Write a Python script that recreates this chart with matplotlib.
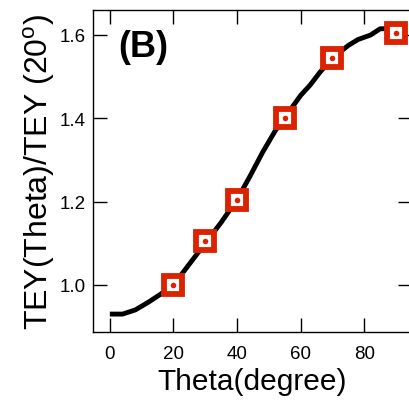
import numpy as np
import matplotlib
matplotlib.use("Agg")
import matplotlib.pyplot as plt

plt.rcParams['font.family'] = ['Liberation Sans', 'DejaVu Sans']
plt.rcParams['mathtext.fontset'] = 'custom'
plt.rcParams['mathtext.rm'] = 'Liberation Sans'

# curve
theta_curve = [0, 4, 8, 12, 16, 20, 25, 30, 35, 40, 44, 48, 52, 55, 60, 63, 66, 70, 75, 78, 82, 85, 88, 90]
tey_curve = [0.93, 0.93, 0.94, 0.958, 0.978, 1.0, 1.05, 1.10, 1.15, 1.205, 1.26, 1.318, 1.37, 1.402, 1.455, 1.48, 1.51, 1.545, 1.575, 1.589, 1.60, 1.615, 1.615, 1.612]

# measured points
theta_pts = [20, 30, 40, 55, 70, 90]
tey_pts = [1.0, 1.106, 1.205, 1.401, 1.545, 1.604]

red = '#dc2200'

fig = plt.figure(figsize=(4.10, 4.06), dpi=100)
ax = fig.add_axes([0.2268, 0.1798, 0.778, 0.7931])

ax.plot(theta_curve, tey_curve, color='black', lw=3.5, solid_capstyle='butt', zorder=2)
ax.plot(theta_pts, tey_pts, ls='none', marker='s', ms=12.5, mew=4.2, mec=red, mfc='white', zorder=3)
ax.plot(theta_pts, tey_pts, ls='none', marker='o', ms=4, mew=0, color=red, zorder=4)

ax.set_xlim(-5.3, 95)
ax.set_ylim(0.887, 1.66)
ax.set_xticks([0, 20, 40, 60, 80])
ax.set_yticks([1.0, 1.2, 1.4, 1.6])
ax.set_yticklabels(['1.0', '1.2', '1.4', '1.6'])

ax.tick_params(direction='in', length=10, width=1, top=True, right=True, labelsize=13.5, colors='black')
ax.tick_params(axis='x', pad=9)
ax.tick_params(axis='y', pad=5)
for s in ax.spines.values():
    s.set_linewidth(1)

ax.set_xlabel('Theta(degree)', fontsize=21.5, labelpad=4)
ax.set_ylabel(r'TEY(Theta)/TEY (20$^{\mathrm{o}}$)', fontsize=23, labelpad=2)

ax.text(0.078, 0.94, '(B)', transform=ax.transAxes, fontsize=26, fontweight='bold', va='top', ha='left')

fig.savefig('out.png', dpi=100)
